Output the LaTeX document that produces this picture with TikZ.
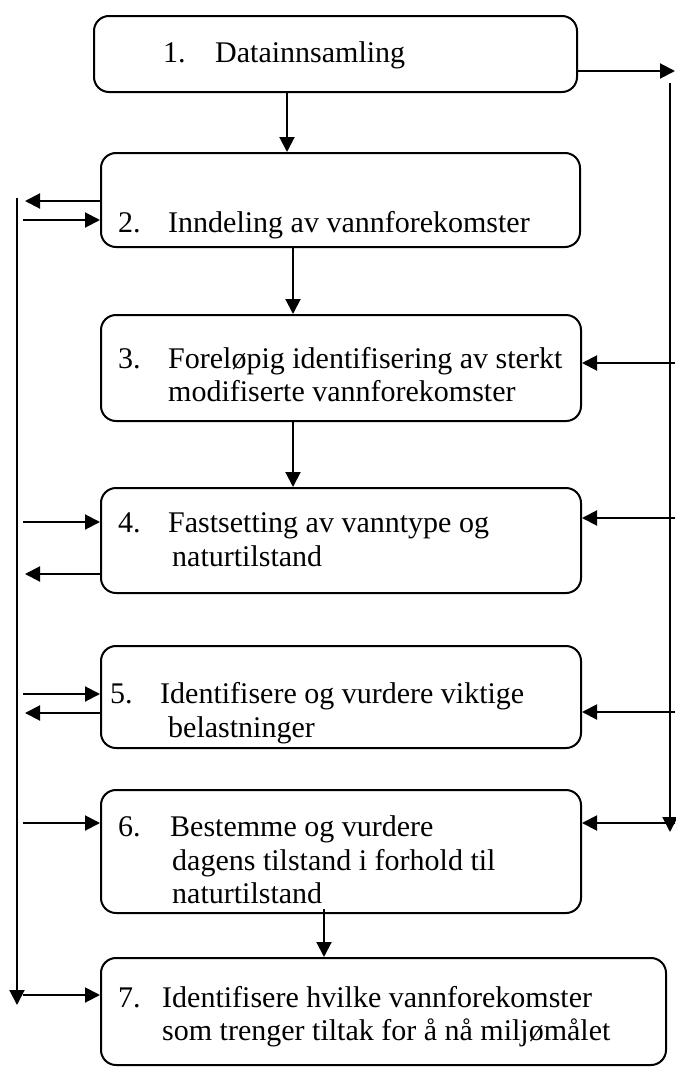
\documentclass[tikz,border=0pt]{standalone}
\usepackage{fontspec}
\setmainfont{Liberation Serif}
\usetikzlibrary{arrows.meta}
\begin{document}
\begin{tikzpicture}[x=1pt,y=-1pt,
  box/.style={draw,line width=2pt,rounded corners=15pt,inner sep=0pt},
  txt/.style={anchor=base west,inner sep=0pt,font=\fontsize{30}{33}\selectfont},
  conn/.style={line width=2pt,-{Triangle[length=15pt,width=15pt]}},
  plain/.style={line width=2pt}]
\useasboundingbox (0,0) rectangle (675,1068);
% boxes
\node[box,minimum width=483pt,minimum height=76pt] (b1) at (335.5,54) {};
\node[box,minimum width=479pt,minimum height=94pt] (b2) at (340.5,200) {};
\node[box,minimum width=480pt,minimum height=106pt] (b3) at (341,368) {};
\node[box,minimum width=480pt,minimum height=105pt] (b4) at (341,540.5) {};
\node[box,minimum width=480pt,minimum height=102pt] (b5) at (341,697) {};
\node[box,minimum width=480pt,minimum height=123pt] (b6) at (341,851.5) {};
\node[box,minimum width=565pt,minimum height=107pt] (b7) at (383.5,1011.5) {};
% texts
\node[txt] (n1) at (163,62) {1.};
\node[txt] (t1) at (215,62) {Datainnsamling};
\node[txt] (n2) at (118,232) {2.};
\node[txt] (t2) at (168,232) {Inndeling av vannforekomster};
\node[txt] (n3) at (118,368) {3.};
\node[txt] (t3a) at (168,368) {Foreløpig identifisering av sterkt};
\node[txt] (t3b) at (168,401) {modifiserte vannforekomster};
\node[txt] (n4) at (118,532) {4.};
\node[txt] (t4a) at (168,532) {Fastsetting av vanntype og};
\node[txt] (t4b) at (172,566) {naturtilstand};
\node[txt] (n5) at (110,703) {5.};
\node[txt] (t5a) at (160,703) {Identifisere og vurdere viktige};
\node[txt] (t5b) at (168,737) {belastninger};
\node[txt] (n6) at (118,836) {6.};
\node[txt] (t6a) at (170,836) {Bestemme og vurdere};
\node[txt] (t6b) at (172,870) {dagens tilstand i forhold til};
\node[txt] (t6c) at (172,903) {naturtilstand};
\node[txt] (n7) at (118,1007) {7.};
\node[txt] (t7a) at (162,1007) {Identifisere hvilke vannforekomster};
\node[txt] (t7b) at (162,1040) {som trenger tiltak for å nå miljømålet};
% vertical flow
\draw[conn] (b1.south -| 287,0) -- (b2.north -| 287,0);
\draw[conn] (b2.south -| 293,0) -- (b3.north -| 293,0);
\draw[conn] (b3.south -| 293,0) -- (b4.north -| 293,0);
\draw[conn] (324,909) -- (b7.north -| 324,0);
% right side
\coordinate (r0) at (675,71);
\coordinate (rt) at (670,83);
\coordinate (rb) at (670,832);
\draw[conn] (b1.east |- r0) -- (r0);
\draw[conn] (rt) -- (rb);
\coordinate (r3) at (675,363);
\coordinate (r4) at (675,518);
\coordinate (r5) at (675,712);
\coordinate (r6) at (675,823);
\draw[conn] (r3) -- (b3.east |- r3);
\draw[conn] (r4) -- (b4.east |- r4);
\draw[conn] (r5) -- (b5.east |- r5);
\draw[conn] (r6) -- (b6.east |- r6);
% left side
\coordinate (lt) at (17,198);
\coordinate (lb) at (17,1005);
\draw[conn] (lt) -- (lb);
\coordinate (o2) at (25,201);
\coordinate (i2) at (23,220);
\coordinate (i4) at (23,522);
\coordinate (o4) at (25,574);
\coordinate (i5) at (23,694);
\coordinate (o5) at (25,713);
\coordinate (i6) at (23,823);
\coordinate (i7) at (23,995);
\draw[conn] (b2.west |- o2) -- (o2);
\draw[conn] (i2) -- (b2.west |- i2);
\draw[conn] (i4) -- (b4.west |- i4);
\draw[conn] (b4.west |- o4) -- (o4);
\draw[conn] (i5) -- (b5.west |- i5);
\draw[conn] (b5.west |- o5) -- (o5);
\draw[conn] (i6) -- (b6.west |- i6);
\draw[conn] (i7) -- (b7.west |- i7);
\end{tikzpicture}
\end{document}
